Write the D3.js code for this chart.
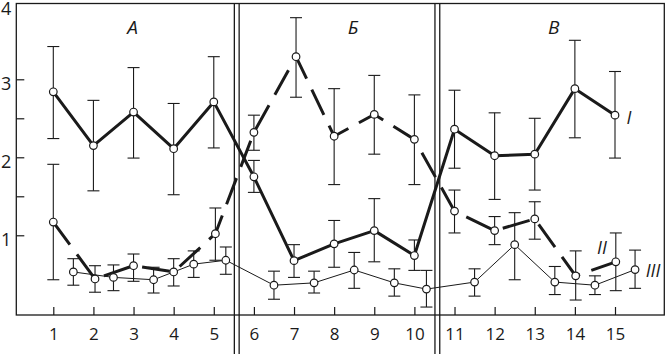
<!DOCTYPE html>
<html>
<head>
<meta charset="utf-8">
<script src="https://cdn.jsdelivr.net/npm/d3@7"></script>
<style>
  html, body { margin: 0; padding: 0; background: #fff; }
  svg { display: block; }
  text { font-family: "Open Sans", "Noto Sans", sans-serif; fill: #1a1a1a; }
</style>
</head>
<body>
<svg id="chart" width="665" height="355"></svg>
<script>
// ---- data ----
const categories = [1, 2, 3, 4, 5, 6, 7, 8, 9, 10, 11, 12, 13, 14, 15];
const yTickLabels = [1, 2, 3, 4];
const yTicks = [1, 1.5, 2, 2.5, 3, 4];
const panelLabels = ["А", "Б", "В"];
const panelCenters = [3, 8.5, 13.5];
const separators = [5.5, 10.5];

const seriesIX = [1, 2, 3, 4, 5, 6, 7, 8, 9, 10, 11, 12, 13, 14, 15];
const seriesI   = [2.84, 2.15, 2.58, 2.11, 2.71, 1.75, 0.675, 0.89, 1.06, 0.74, 2.36, 2.02, 2.04, 2.88, 2.54];
const seriesIHi = [3.42, 2.73, 3.15, 2.69, 3.29, 1.96, 0.88, 1.19, 1.47, 0.94, 2.86, 2.57, 2.50, 3.50, 3.10];
const seriesILo = [2.24, 1.57, 1.99, 1.52, 2.12, 1.55, 0.46, 0.59, 0.66, 0.55, 1.86, 1.46, 1.58, 2.25, 1.99];

const seriesIIX = [1, 2.04, 3, 4, 5.04, 6, 7.05, 8, 9, 10, 11, 12, 13, 14.02, 15.02];
const seriesII   = [1.17, 0.44, 0.61, 0.53, 1.02, 2.32, 3.29, 2.27, 2.55, 2.23, 1.31, 1.06, 1.21, 0.48, 0.66];
const seriesIIHi = [1.91, 0.61, 0.76, 0.70, 1.35, 2.54, 3.79, 2.88, 3.05, 2.80, 1.58, 1.24, 1.43, 0.80, 1.03];
const seriesIILo = [0.43, 0.27, 0.41, 0.35, 0.68, 2.09, 2.77, 1.65, 2.04, 1.65, 1.03, 0.88, 0.95, 0.17, 0.29];

const seriesIIIX = [1.5, 2.5, 3.5, 4.5, 5.3, 6.5, 7.5, 8.5, 9.5, 10.3, 11.5, 12.5, 13.5, 14.5, 15.5];
const seriesIII   = [0.53, 0.46, 0.43, 0.63, 0.68, 0.36, 0.39, 0.555, 0.39, 0.31, 0.40, 0.88, 0.40, 0.36, 0.56];
const seriesIIIHi = [0.70, 0.62, 0.59, 0.80, 0.85, 0.54, 0.54, 0.78, 0.57, 0.55, 0.57, 1.29, 0.60, 0.48, 0.81];
const seriesIIILo = [0.36, 0.29, 0.26, 0.46, 0.50, 0.18, 0.26, 0.32, 0.22, 0.08, 0.22, 0.43, 0.24, 0.24, 0.32];

const seriesNames = ["I", "II", "III"];

// ---- scales ----
const svg = d3.select("#chart");
const ink = "#1a1a1a";
const x = d3.scaleLinear().domain([1, 15]).range([53.3, 615]);
const y = d3.scaleLinear().domain([-0.022, 4]).range([315, 1.3]);

const frameL = 16.3, frameR = 664.3, frameT = 3.5, frameB = 315;

// separators (double lines)
separators.forEach(s => {
  [0.5, 5.3].forEach(off => {
    svg.append("line")
      .attr("x1", x(s) + off).attr("x2", x(s) + off)
      .attr("y1", frameT).attr("y2", 354)
      .attr("stroke", ink).attr("stroke-width", 1.3);
  });
});

// frame
svg.append("rect")
  .attr("x", frameL).attr("y", frameT)
  .attr("width", frameR - frameL).attr("height", frameB - frameT)
  .attr("fill", "none").attr("stroke", ink).attr("stroke-width", 1.3);

// y axis
const yAxis = d3.axisLeft(y).tickValues(yTicks).tickSizeInner(-8).tickSizeOuter(0).tickPadding(5)
  .tickFormat(d => yTickLabels.includes(d) ? d3.format("d")(d) : "");
const gy = svg.append("g").attr("transform", `translate(${frameL},0)`).call(yAxis);
gy.select(".domain").remove();
gy.selectAll(".tick line").attr("stroke", ink).attr("stroke-width", 1.2)
  .attr("display", d => d > 3.9 ? "none" : null);
gy.selectAll(".tick text").attr("font-size", 18)
  .attr("dy", d => d > 3.9 ? "0.72em" : "0.55em")
  .style("font-family", "'Open Sans', sans-serif").attr("fill", ink);

// x axis
const xAxis = d3.axisBottom(x).tickValues(categories).tickSizeInner(-8).tickSizeOuter(0).tickPadding(13)
  .tickFormat(d3.format("d"));
const gx = svg.append("g").attr("transform", `translate(0,${frameB})`).call(xAxis);
gx.select(".domain").remove();
gx.selectAll(".tick line").attr("stroke", ink).attr("stroke-width", 1.2);
gx.selectAll(".tick text").attr("font-size", 17)
  .style("font-family", "'Open Sans', sans-serif").attr("fill", ink);

// panel labels
panelLabels.forEach((t, i) => {
  svg.append("text").attr("x", x(panelCenters[i]) - 1).attr("y", 34)
    .attr("text-anchor", "middle").attr("font-size", 19).attr("font-style", "italic").text(t);
});

// error bars
function errorBars(xs, hi, lo) {
  const g = svg.append("g").attr("stroke", ink).attr("stroke-width", 1.1).attr("fill", "none");
  xs.forEach((xv, i) => {
    const px = x(xv);
    g.append("line").attr("x1", px).attr("x2", px).attr("y1", y(hi[i])).attr("y2", y(lo[i]));
    g.append("line").attr("x1", px - 6).attr("x2", px + 6).attr("y1", y(hi[i])).attr("y2", y(hi[i]));
    g.append("line").attr("x1", px - 6).attr("x2", px + 6).attr("y1", y(lo[i])).attr("y2", y(lo[i]));
  });
}
errorBars(seriesIX, seriesIHi, seriesILo);
errorBars(seriesIIX, seriesIIHi, seriesIILo);
errorBars(seriesIIIX, seriesIIIHi, seriesIIILo);

// lines
const line = d3.line().x(d => x(d[0])).y(d => y(d[1]));
svg.append("path").datum(seriesIIIX.map((v, i) => [v, seriesIII[i]]))
  .attr("d", line).attr("fill", "none").attr("stroke", ink).attr("stroke-width", 1);
svg.append("path").datum(seriesIX.map((v, i) => [v, seriesI[i]]))
  .attr("d", line).attr("fill", "none").attr("stroke", ink).attr("stroke-width", 3)
  .attr("stroke-linejoin", "round");
svg.append("path").datum(seriesIIX.map((v, i) => [v, seriesII[i]]))
  .attr("d", line).attr("fill", "none").attr("stroke", ink).attr("stroke-width", 3)
  .attr("stroke-dasharray", "28,12");

// points
function points(xs, vals) {
  svg.append("g").selectAll("circle").data(xs).join("circle")
    .attr("cx", d => x(d)).attr("cy", (d, i) => y(vals[i])).attr("r", 3.8)
    .attr("fill", "#fff").attr("stroke", ink).attr("stroke-width", 1.2);
}
points(seriesIIIX, seriesIII);
points(seriesIX, seriesI);
points(seriesIIX, seriesII);

// series labels
const labelPos = [[629, 124], [602, 254], [653, 277]];
seriesNames.forEach((t, i) => {
  svg.append("text").attr("x", labelPos[i][0]).attr("y", labelPos[i][1])
    .attr("text-anchor", "middle").attr("font-size", 18).attr("font-style", "italic").text(t);
});
</script>
</body>
</html>
